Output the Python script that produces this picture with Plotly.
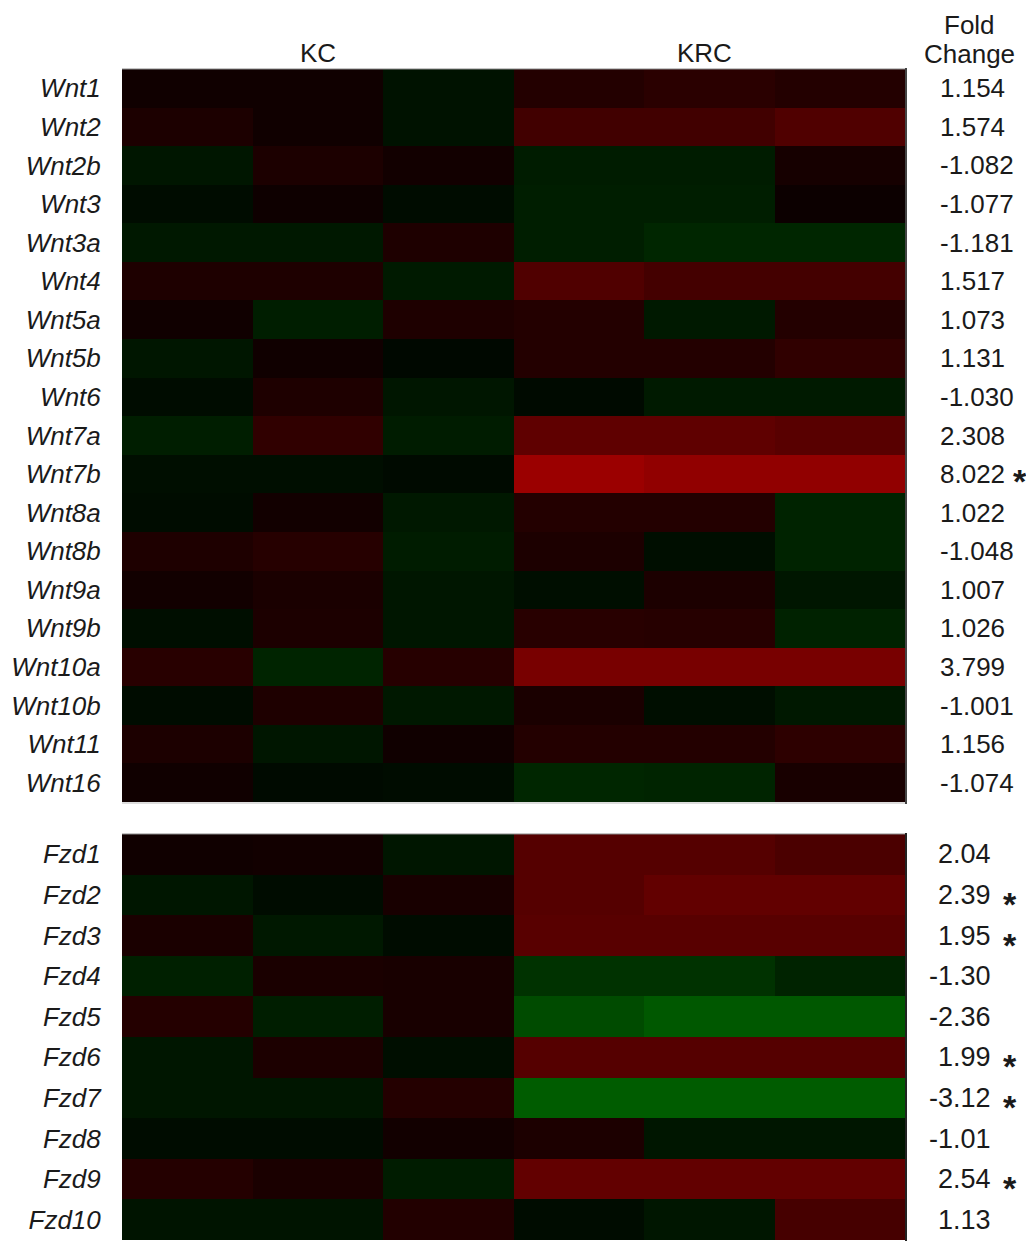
import plotly.graph_objects as go

# page is offset by the browser's default 8px body margin
OFF = 8
W, H = 1034 - 2 * OFF, 1241 - OFF

samples = ["KC-1", "KC-2", "KC-3", "KRC-1", "KRC-2", "KRC-3"]

wnt_genes = ["Wnt1", "Wnt2", "Wnt2b", "Wnt3", "Wnt3a", "Wnt4", "Wnt5a", "Wnt5b",
             "Wnt6", "Wnt7a", "Wnt7b", "Wnt8a", "Wnt8b", "Wnt9a", "Wnt9b",
             "Wnt10a", "Wnt10b", "Wnt11", "Wnt16"]
# relative expression (log scale, red = up, green = down)
wnt_values = [
    [0.19, 0.19, -0.21, 0.41, 0.49, 0.41],
    [0.33, 0.19, -0.21, 0.76, 0.76, 0.94],
    [-0.26, 0.33, 0.21, -0.33, -0.33, 0.26],
    [-0.14, 0.16, -0.14, -0.35, -0.35, 0.14],
    [-0.28, -0.28, 0.35, -0.35, -0.45, -0.45],
    [0.35, 0.35, -0.31, 0.94, 0.80, 0.80],
    [0.19, -0.35, 0.35, 0.41, -0.29, 0.41],
    [-0.26, 0.19, -0.09, 0.41, 0.41, 0.56],
    [-0.14, 0.35, -0.26, -0.12, -0.31, -0.31],
    [-0.35, 0.56, -0.33, 1.12, 1.12, 1.04],
    [-0.16, -0.16, -0.12, 1.82, 1.71, 1.71],
    [-0.14, 0.21, -0.28, 0.41, 0.41, -0.41],
    [0.35, 0.45, -0.33, 0.33, -0.16, -0.41],
    [0.21, 0.31, -0.26, -0.16, 0.33, -0.26],
    [-0.16, 0.33, -0.26, 0.47, 0.45, -0.40],
    [0.47, -0.42, 0.45, 1.41, 1.41, 1.41],
    [-0.14, 0.35, -0.28, 0.31, -0.16, -0.28],
    [0.33, -0.26, 0.19, 0.41, 0.41, 0.53],
    [0.19, -0.12, -0.14, -0.45, -0.42, 0.28],
]
wnt_fold = [1.154, 1.574, -1.082, -1.077, -1.181, 1.517, 1.073, 1.131, -1.030,
            2.308, 8.022, 1.022, -1.048, 1.007, 1.026, 3.799, -1.001, 1.156, -1.074]
wnt_sig = [False, False, False, False, False, False, False, False, False,
           False, True, False, False, False, False, False, False, False, False]

fzd_genes = ["Fzd1", "Fzd2", "Fzd3", "Fzd4", "Fzd5", "Fzd6", "Fzd7", "Fzd8", "Fzd9", "Fzd10"]
fzd_values = [
    [0.19, 0.21, -0.26, 1.00, 1.00, 0.88],
    [-0.26, -0.14, 0.28, 1.00, 1.15, 1.15],
    [0.31, -0.28, -0.14, 1.04, 1.04, 1.04],
    [-0.38, 0.31, 0.28, -0.59, -0.59, -0.41],
    [0.42, -0.35, 0.28, -0.88, -1.04, -1.04],
    [-0.26, 0.33, -0.16, 1.00, 1.00, 1.00],
    [-0.26, -0.26, 0.42, -1.08, -1.08, -1.08],
    [-0.14, -0.14, 0.21, 0.33, -0.26, -0.26],
    [0.42, 0.31, -0.33, 1.15, 1.15, 1.15],
    [-0.24, -0.24, 0.40, -0.14, -0.26, 0.82],
]
fzd_fold = [2.04, 2.39, 1.95, -1.30, -2.36, 1.99, -3.12, -1.01, 2.54, 1.13]
fzd_sig = [False, True, True, False, False, True, True, False, True, False]

group_labels = ["KC", "KRC"]


def px_x(x):
    return (x - OFF) / W


def px_y(y):
    return 1 - (y - OFF) / H


FONT = "Liberation Sans, Arial, sans-serif"
TXT = "#1a1a1a"
cscale = [[0, "rgb(0,255,0)"], [0.5, "rgb(0,0,0)"], [1, "rgb(255,0,0)"]]

fig = go.Figure()
fig.add_trace(go.Heatmap(z=wnt_values, x=samples, y=wnt_genes, colorscale=cscale,
                         zmin=-3, zmax=3, showscale=False, xaxis="x", yaxis="y",
                         hoverinfo="skip"))
fig.add_trace(go.Heatmap(z=fzd_values, x=samples, y=fzd_genes, colorscale=cscale,
                         zmin=-3, zmax=3, showscale=False, xaxis="x2", yaxis="y2",
                         hoverinfo="skip"))

xdom = [px_x(122), px_x(905)]
yaxis_common = dict(autorange="reversed", showgrid=False, zeroline=False,
                    ticks="outside", ticklen=15, tickcolor="rgba(0,0,0,0)",
                    tickfont=dict(family=FONT, size=26, color=TXT, style="italic"),
                    showline=False)
xaxis_common = dict(domain=xdom, showgrid=False, zeroline=False, showticklabels=False,
                    ticks="", showline=False)

fig.update_layout(
    width=W, height=H,
    margin=dict(l=0, r=0, t=0, b=0),
    paper_bgcolor="white", plot_bgcolor="white",
    xaxis=dict(anchor="y", **xaxis_common),
    yaxis=dict(anchor="x", domain=[px_y(802), px_y(69)], **yaxis_common),
    xaxis2=dict(anchor="y2", **xaxis_common),
    yaxis2=dict(anchor="x2", domain=[px_y(1240), px_y(834)], **yaxis_common),
)

ann = []
hdr = dict(xref="paper", yref="paper", showarrow=False, xanchor="center", yanchor="middle",
           font=dict(family=FONT, size=26, color=TXT))
ann.append(dict(text=group_labels[0], x=px_x(318), y=px_y(53), **hdr))
ann.append(dict(text=group_labels[1], x=px_x(704), y=px_y(53), **hdr))
ann.append(dict(text="Fold", x=px_x(969), y=1.0, xref="paper", yref="paper",
                showarrow=False, xanchor="center", yanchor="top",
                font=dict(family=FONT, size=26, color=TXT)))
ann.append(dict(text="Change", x=px_x(969), y=px_y(54), **hdr))

for g, v, s in zip(wnt_genes, wnt_fold, wnt_sig):
    ann.append(dict(text=f"{v:.3f}", x=px_x(938), y=g, xref="paper", yref="y",
                    showarrow=False, xanchor="left", yanchor="middle",
                    font=dict(family=FONT, size=26, color=TXT)))
    if s:
        ann.append(dict(text="<b>*</b>", x=px_x(1020), y=g, xref="paper", yref="y",
                        showarrow=False, xanchor="center", yanchor="middle", yshift=-7,
                        font=dict(family=FONT, size=34, color=TXT)))

for g, v, s in zip(fzd_genes, fzd_fold, fzd_sig):
    ann.append(dict(text=f"{v:.2f}", x=px_x(993), y=g, xref="paper", yref="y2",
                    showarrow=False, xanchor="right", yanchor="middle",
                    font=dict(family=FONT, size=27, color=TXT)))
    if s:
        ann.append(dict(text="<b>*</b>", x=px_x(1010), y=g, xref="paper", yref="y2",
                        showarrow=False, xanchor="center", yanchor="middle", yshift=-9,
                        font=dict(family=FONT, size=34, color=TXT)))

fig.update_layout(annotations=ann)

shapes = [
    dict(type="line", xref="paper", yref="paper", x0=px_x(122), x1=px_x(905),
         y0=px_y(69), y1=px_y(69), line=dict(color="#8a8a8a", width=1)),
    dict(type="line", xref="paper", yref="paper", x0=px_x(906), x1=px_x(906),
         y0=px_y(68), y1=px_y(804), line=dict(color="#444", width=2)),
    dict(type="line", xref="paper", yref="paper", x0=px_x(122), x1=px_x(905),
         y0=px_y(803), y1=px_y(803), line=dict(color="#bbbbbb", width=1)),
    dict(type="line", xref="paper", yref="paper", x0=px_x(122), x1=px_x(905),
         y0=px_y(834), y1=px_y(834), line=dict(color="#8a8a8a", width=1)),
    dict(type="line", xref="paper", yref="paper", x0=px_x(906), x1=px_x(906),
         y0=px_y(833), y1=0, line=dict(color="#222", width=2)),
]
fig.update_layout(shapes=shapes)

fig.write_html("out.html")
